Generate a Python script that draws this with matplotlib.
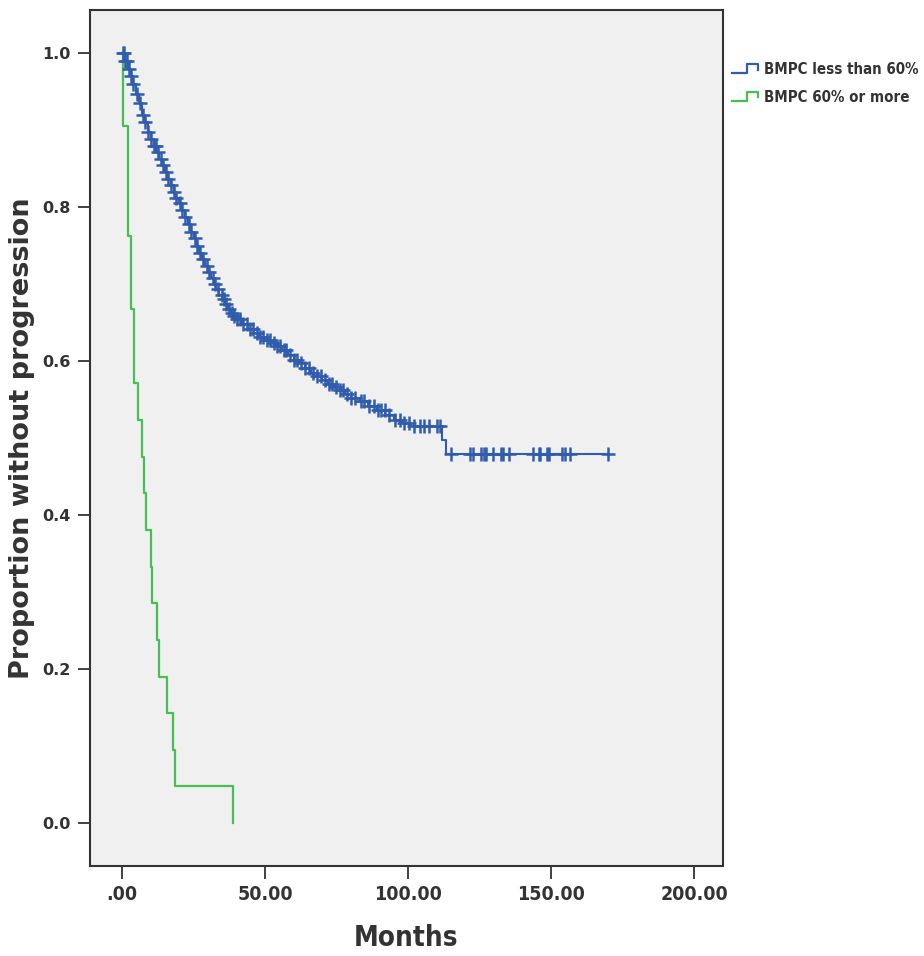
import numpy as np
import matplotlib.pyplot as plt
from matplotlib.lines import Line2D
from matplotlib.legend_handler import HandlerBase

# Kaplan-Meier step points (months, proportion)
blue_times = [0, 1, 2, 3, 4, 5, 6, 7, 8, 9, 10, 11, 12, 13, 14, 15, 16, 17, 18, 19,
              20, 21, 22, 23, 24, 25, 26, 27, 28, 29, 30, 31, 32, 33, 34, 35, 36, 37,
              38, 39, 40, 42, 44, 46, 48, 50, 52, 54, 56, 58, 60, 62, 64, 66, 68, 70,
              72, 74, 76, 78, 80, 83, 86, 89, 92, 95, 98, 101, 111.8, 113.3, 170.0]
blue_surv = [1.0, 0.99, 0.98, 0.97, 0.96, 0.947, 0.935, 0.92, 0.91, 0.897, 0.888,
             0.88, 0.872, 0.863, 0.855, 0.845, 0.837, 0.829, 0.82, 0.812, 0.805,
             0.796, 0.787, 0.778, 0.768, 0.76, 0.75, 0.741, 0.732, 0.724, 0.716,
             0.708, 0.70, 0.693, 0.686, 0.68, 0.674, 0.668, 0.663, 0.659, 0.655,
             0.648, 0.642, 0.636, 0.631, 0.627, 0.623, 0.619, 0.614, 0.608, 0.602,
             0.597, 0.591, 0.585, 0.58, 0.575, 0.57, 0.566, 0.562, 0.557, 0.552,
             0.548, 0.542, 0.536, 0.53, 0.524, 0.519, 0.515, 0.497, 0.479, 0.479]
blue_censored = [0.2, 0.6, 1.0, 1.6, 2.4, 3.2, 4.0, 5.1, 6.3, 7.2, 8.0, 9.1, 10.2, 11.0,
                 11.8, 12.7, 13.6, 14.4, 15.3, 16.2, 17.0, 18.1, 19.0, 20.2, 21.1, 22.0,
                 23.3, 24.2, 25.4, 26.3, 27.1, 28.4, 29.6, 30.5, 31.7, 32.6, 33.5, 34.8,
                 35.6, 36.5, 37.4, 38.3, 39.2, 40.1, 41.3, 42.2, 43.5, 44.6, 45.8, 47.0,
                 48.3, 49.1, 50.6, 51.8, 53.0, 54.1, 55.3, 56.5, 57.4, 58.7, 60.1, 61.3,
                 62.6, 64.0, 65.2, 66.8, 68.1, 69.5, 70.8, 72.4, 73.5, 74.9, 76.3, 77.2,
                 78.6, 80.1, 81.5, 83.4, 84.7, 86.2, 88.0, 89.3, 90.6, 91.8, 93.2, 95.4,
                 97.0, 98.6, 100.2, 101.9, 104.1, 105.6, 107.3, 110.1, 111.0, 114.9,
                 121.7, 122.8, 125.4, 126.6, 127.2, 129.6, 132.4, 133.1, 135.4, 143.5,
                 145.6, 146.2, 148.5, 149.1, 153.7, 154.9, 156.4, 169.7]

green_times = [0, 0.45, 2.2, 3.0, 4.2, 5.7, 7.0, 7.7, 8.4, 10.0, 10.6, 12.1, 12.8,
               15.8, 17.9, 18.6, 38.9]
green_surv = [1.0, 0.905, 0.762, 0.667, 0.571, 0.524, 0.476, 0.429, 0.381, 0.333,
              0.286, 0.238, 0.190, 0.143, 0.095, 0.048, 0.0]

labels = ["BMPC less than 60%", "BMPC 60% or more"]
x_ticks = [0, 50, 100, 150, 200]
x_ticklabels = [".00", "50.00", "100.00", "150.00", "200.00"]
y_ticks = [0.0, 0.2, 0.4, 0.6, 0.8, 1.0]

BLUE = "#2F5CAC"
GREEN = "#45BF55"
DARK = "#333333"
NARROW = dict(family="DejaVu Sans", fontstretch="condensed", fontweight="bold")


class StepHandler(HandlerBase):
    # little step glyph as in the SPSS legend
    def create_artists(self, legend, orig_handle, xdescent, ydescent,
                       width, height, fontsize, trans):
        xs = np.array([0.0, 0.55, 0.55, 0.95, 0.95]) * width - xdescent
        ys = np.array([0.1, 0.1, 0.95, 0.95, 0.45]) * height - ydescent
        line = Line2D(xs, ys, color=orig_handle.get_color(), lw=1.6)
        line.set_transform(trans)
        return [line]


def main() -> None:
    fig = plt.figure(figsize=(9.24, 9.56), dpi=100)
    ax = fig.add_axes([0.0974, 0.0941, 0.685, 0.8954])
    ax.set_facecolor("#F0F0F0")

    bt = np.array(blue_times)
    bs = np.array(blue_surv)
    ax.step(bt, bs, where="post", color=BLUE, lw=1.5, zorder=3)
    cens = np.array(blue_censored)
    idx = np.searchsorted(bt, cens, side="right") - 1
    ax.plot(cens, bs[idx], ls="none", marker="+", ms=10, mew=1.8,
            color=BLUE, zorder=4)

    ax.step(green_times, green_surv, where="post", color=GREEN, lw=1.6, zorder=2)

    ax.set_xlim(-11.2, 210)
    ax.set_ylim(-0.056, 1.056)
    ax.set_xticks(x_ticks)
    ax.set_xticklabels(x_ticklabels, fontsize=14, color=DARK, **NARROW)
    ax.set_yticks(y_ticks)
    ax.set_yticklabels([f"{v:.1f}" for v in y_ticks], family="DejaVu Sans",
                       fontweight="bold", fontsize=11.5, color=DARK)
    ax.tick_params(direction="out", length=9, width=1.3, color=DARK, pad=5)
    for sp in ax.spines.values():
        sp.set_linewidth(1.5)
        sp.set_color(DARK)

    ax.set_xlabel("Months", fontsize=20, color=DARK, labelpad=14, **NARROW)
    ax.set_ylabel("Proportion without progression", family="DejaVu Sans",
                  fontweight="bold", fontsize=19.5, color=DARK, labelpad=5)

    handles = [Line2D([], [], color=BLUE), Line2D([], [], color=GREEN)]
    leg = fig.legend(handles, labels, loc="upper left",
                     bbox_to_anchor=(0.786, 0.941), frameon=False,
                     handler_map={Line2D: StepHandler()},
                     prop={"family": "DejaVu Sans", "stretch": "condensed",
                           "weight": "bold", "size": 10.8},
                     handlelength=1.8, handletextpad=0.3, labelspacing=0.85,
                     borderaxespad=0)
    for t in leg.get_texts():
        t.set_color(DARK)

    fig.savefig("out.png", dpi=100, facecolor="white")


if __name__ == "__main__":
    main()
